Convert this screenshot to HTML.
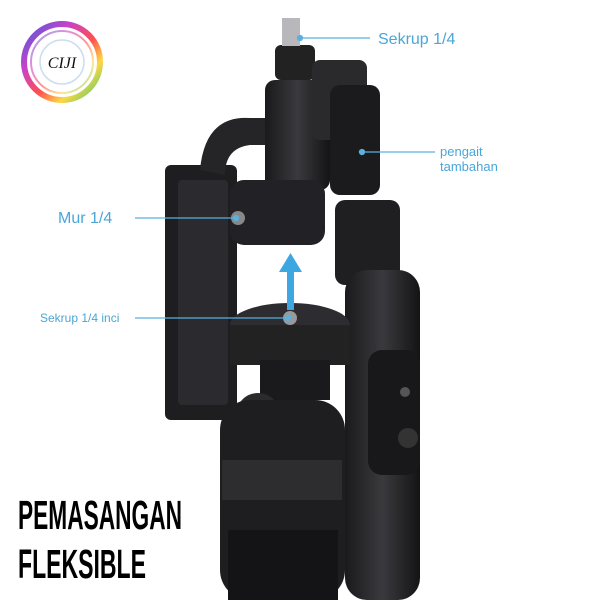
<!DOCTYPE html>
<html><head><style>
html,body{margin:0;padding:0;background:#fff;}
svg{display:block;}
</style></head><body>
<svg width="600" height="600" viewBox="0 0 600 600" xmlns="http://www.w3.org/2000/svg">
<defs>
<linearGradient id="g1" x1="0" y1="0" x2="1" y2="0"><stop offset="0" stop-color="#1a1a1c"/><stop offset="0.5" stop-color="#3a3a3e"/><stop offset="1" stop-color="#141416"/></linearGradient>
<linearGradient id="rb" x1="0" y1="0" x2="1" y2="1"><stop offset="0" stop-color="#2b3fd6"/><stop offset="0.3" stop-color="#c020c0"/><stop offset="0.55" stop-color="#ff3030"/><stop offset="0.75" stop-color="#ffd020"/><stop offset="1" stop-color="#20c060"/></linearGradient>
</defs>
<rect width="600" height="600" fill="#fff"/>
<circle cx="62" cy="62" r="38" fill="none" stroke="url(#rb)" stroke-width="6" opacity="0.85"/>
<circle cx="62" cy="62" r="31" fill="none" stroke="url(#rb)" stroke-width="2" opacity="0.5"/>
<circle cx="62" cy="62" r="22" fill="none" stroke="#9bd" stroke-width="1.5" opacity="0.5"/>
<text x="62" y="68" font-family="Liberation Serif, serif" font-style="italic" font-size="16" text-anchor="middle" fill="#111">CIJI</text>

<rect x="165" y="165" width="72" height="255" rx="6" fill="#1e1e21"/>
<rect x="178" y="180" width="50" height="225" rx="4" fill="#2b2b2f"/>
<path d="M200 170 Q205 115 250 118 L265 118 L265 145 L250 145 Q225 148 225 175 Z" fill="#252528"/>
<rect x="275" y="45" width="40" height="35" rx="6" fill="#222"/>
<rect x="282" y="18" width="18" height="28" fill="#b8b8bc"/>
<rect x="265" y="80" width="65" height="110" rx="10" fill="url(#g1)"/>
<rect x="312" y="60" width="55" height="80" rx="8" fill="#2a2a2d"/>
<rect x="330" y="85" width="50" height="110" rx="10" fill="#1b1b1d"/>
<rect x="230" y="180" width="95" height="65" rx="14" fill="#222226"/>
<circle cx="238" cy="218" r="7" fill="#888"/>
<rect x="335" y="200" width="65" height="85" rx="10" fill="#1f1f22"/>
<rect x="345" y="270" width="75" height="330" rx="22" fill="url(#g1)"/>
<rect x="368" y="350" width="52" height="125" rx="14" fill="#18181a"/>
<circle cx="405" cy="392" r="5" fill="#555"/>
<circle cx="408" cy="438" r="10" fill="#333"/>
<ellipse cx="290" cy="325" rx="60" ry="22" fill="#2d2d31"/>
<rect x="230" y="325" width="120" height="40" fill="#222"/>
<rect x="260" y="360" width="70" height="40" fill="#1a1a1c"/>
<circle cx="258" cy="415" r="22" fill="#2b2b2e"/>
<circle cx="290" cy="318" r="7" fill="#999"/>
<rect x="220" y="400" width="125" height="200" rx="30" fill="#1e1e21"/>
<rect x="222" y="460" width="120" height="40" fill="#2d2d30"/>
<rect x="228" y="530" width="110" height="70" fill="#141416"/>

<rect x="287" y="268" width="7" height="42" fill="#3ea6e0"/>
<polygon points="279,272 290.5,253 302,272" fill="#3ea6e0"/>

<g stroke="#5ab0de" stroke-width="1.3" fill="#5ab0de">
<line x1="300" y1="38" x2="370" y2="38"/><circle cx="300" cy="38" r="2.5"/>
<line x1="362" y1="152" x2="435" y2="152"/><circle cx="362" cy="152" r="2.5"/>
<line x1="135" y1="218" x2="236" y2="218"/><circle cx="236" cy="218" r="2.5"/>
<line x1="135" y1="318" x2="288" y2="318"/><circle cx="288" cy="318" r="2.5"/>
</g>
<g font-family="Liberation Sans, sans-serif" fill="#4aa6d8">
<text x="378" y="44" font-size="16">Sekrup 1/4</text>
<text x="440" y="156" font-size="13">pengait</text>
<text x="440" y="171" font-size="13">tambahan</text>
<text x="58" y="223" font-size="16">Mur 1/4</text>
<text x="40" y="322" font-size="12">Sekrup 1/4 inci</text>
</g>
<g font-family="Liberation Sans, sans-serif" font-weight="bold" fill="#000">
<text x="18" y="529" font-size="41" textLength="164" lengthAdjust="spacingAndGlyphs">PEMASANGAN</text>
<text x="18" y="578" font-size="41" textLength="128" lengthAdjust="spacingAndGlyphs">FLEKSIBLE</text>
</g>
</svg>
</body></html>
